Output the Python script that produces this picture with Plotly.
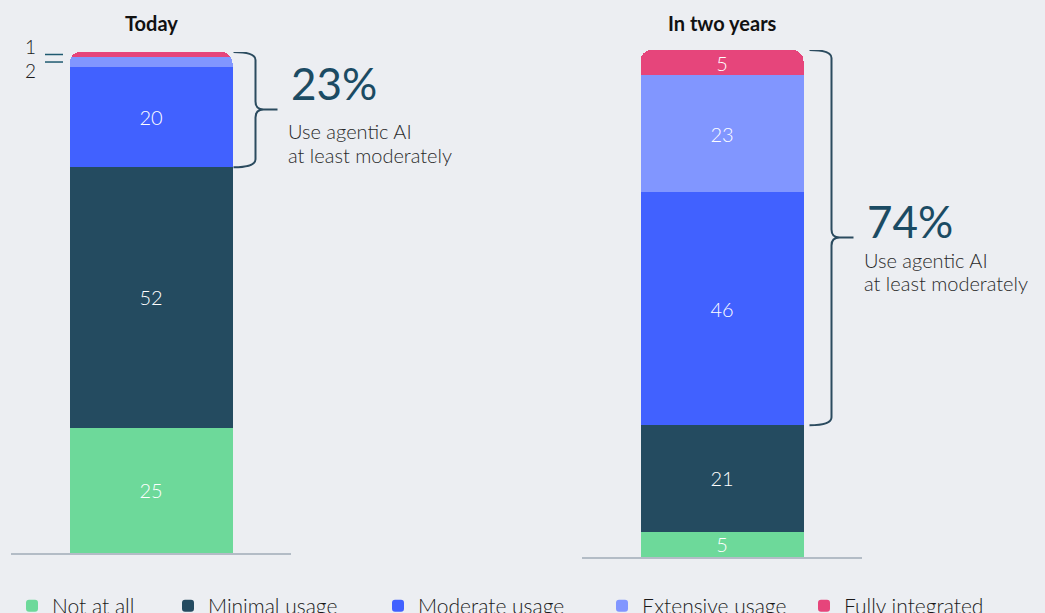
import plotly.graph_objects as go

# ---------------- data ----------------
categories = ["Not at all", "Minimal usage", "Moderate usage", "Extensive usage", "Fully integrated"]
periods = ["Today", "In two years"]
today_values = [25, 52, 20, 2, 1]
two_years_values = [5, 21, 46, 23, 5]
highlight_from = 2          # "Moderate usage" and above
highlight_label = "Use agentic AI"
highlight_label2 = "at least moderately"

# ---------------- style ----------------
colors = ["#6dd99a", "#244b60", "#4161ff", "#8196ff", "#e6457b"]
BG = "#eceef2"
FONT = "Lato"
TEAL = "#1b4b63"
BRACE = "#2b4b5f"
W, H = 1045, 613

panels = [
    dict(x0=11, x1=291, top=52, bottom=553, brace_gap=1, txt=(-27, 21, 45)),
    dict(x0=582, x1=862, top=50, bottom=557, brace_gap=6, txt=(-17, 22, 45)),
]
BAR_PX = 163


def fx(px):
    return px / W


def fy(py):
    return 1 - py / H


def xd(p, pan):
    return (p - pan["x0"]) / (pan["x1"] - pan["x0"]) - 0.5


def yd(p, pan):
    return (pan["bottom"] - p) / (pan["bottom"] - pan["top"]) * 100


def ypx(v, pan):
    return pan["bottom"] - v / 100 * (pan["bottom"] - pan["top"])


fig = go.Figure()
series = [today_values, two_years_values]

for j, vals in enumerate(series):
    pan = panels[j]
    xa = "x" if j == 0 else "x2"
    ya = "y" if j == 0 else "y2"
    width = BAR_PX / (pan["x1"] - pan["x0"])
    for i, cat in enumerate(categories):
        v = vals[i]
        fig.add_trace(go.Bar(
            x=[0], y=[v], name=cat, width=[width],
            marker=dict(color=colors[i], line=dict(width=0)),
            text=[str(v) if v >= 5 else ""],
            textposition="inside", insidetextanchor="middle", textangle=0,
            textfont=dict(color="white", size=20, family=FONT, weight=300),
            xaxis=xa, yaxis=ya,
            legend="legend" if i == 0 else f"legend{i + 1}",
            legendgroup=cat, showlegend=(j == 0),
            hovertemplate=f"{periods[j]}<br>{cat}: %{{y}}%<extra></extra>",
        ))

shapes = []
annotations = []

for j, vals in enumerate(series):
    pan = panels[j]
    xr = "x" if j == 0 else "x2"
    yr = "y" if j == 0 else "y2"
    cx = (pan["x0"] + pan["x1"]) / 2
    # title
    annotations.append(dict(text=f"<b>{periods[j]}</b>", x=0, xref=xr, y=fy(23), yref="paper",
                            xanchor="center", yanchor="middle", showarrow=False,
                            font=dict(size=20, family=FONT, color="#111111")))
    # brace over highlighted share
    total = sum(vals)
    start = sum(vals[:highlight_from])
    share = sum(vals[highlight_from:])
    top = ypx(total, pan)
    bot = ypx(start, pan)
    mid = (top + bot) / 2
    x0s = cx + BAR_PX / 2 + pan["brace_gap"]
    xv = x0s + 22
    tip = xv + 22
    r = 8
    pts = [
        ("M", [(x0s, top)]),
        ("Q", [(xv, top), (xv, top + r)]),
        ("L", [(xv, mid - r)]),
        ("Q", [(xv, mid), (xv + r, mid)]),
        ("L", [(tip, mid)]),
        ("M", [(xv + r, mid)]),
        ("Q", [(xv, mid), (xv, mid + r)]),
        ("L", [(xv, bot - r)]),
        ("Q", [(xv, bot), (x0s, bot)]),
    ]
    path = " ".join(
        cmd + " ".join(f"{xd(px, pan):.5f},{yd(py, pan):.4f}" for px, py in p) for cmd, p in pts
    )
    shapes.append(dict(type="path", path=path, xref=xr, yref=yr,
                       line=dict(color=BRACE, width=2), fillcolor="rgba(0,0,0,0)"))
    o1, o2, o3 = pan["txt"]
    tx = tip + 11
    annotations.append(dict(text=f"{share}%", x=fx(tx), xref="paper", y=yd(mid + o1, pan), yref=yr,
                            xanchor="left", yanchor="middle", showarrow=False,
                            font=dict(size=44, family=FONT, color=TEAL)))
    annotations.append(dict(text=highlight_label, x=fx(tx - 3), xref="paper", y=yd(mid + o2, pan), yref=yr,
                            xanchor="left", yanchor="middle", showarrow=False,
                            font=dict(size=20, family=FONT, color="#2a2a2a", weight=300)))
    annotations.append(dict(text=highlight_label2, x=fx(tx - 3), xref="paper", y=yd(mid + o3, pan), yref=yr,
                            xanchor="left", yanchor="middle", showarrow=False,
                            font=dict(size=20, family=FONT, color="#2a2a2a", weight=300)))

    # outside labels for small segments
    small = [i for i, v in enumerate(vals) if v < 5]
    cum = 0
    mids = {}
    for i, v in enumerate(vals):
        mids[i] = cum + v / 2
        cum += v
    for k, i in enumerate(sorted(small, key=lambda t: -mids[t])):
        ym = mids[i]
        shapes.append(dict(type="line", xref=xr, yref=yr,
                           x0=xd(45, pan), x1=xd(63, pan), y0=ym, y1=ym,
                           line=dict(color="#1f5a70", width=1.5)))
        annotations.append(dict(text=str(vals[i]), x=fx(38), xref="paper", y=ym, yref=yr,
                                xanchor="right", yanchor="middle", showarrow=False,
                                yshift=8 if k == 0 else -8,
                                font=dict(size=19, family=FONT, color="#1a1a1a", weight=300)))

layout = dict(
    width=W, height=H,
    margin=dict(l=0, r=0, t=0, b=0, autoexpand=False),
    paper_bgcolor=BG, plot_bgcolor=BG,
    barmode="stack", barcornerradius=11,
    uniformtext=dict(minsize=20, mode="show"),
    shapes=shapes, annotations=annotations,
    hovermode="closest",
)
for j, pan in enumerate(panels):
    sx = "" if j == 0 else "2"
    layout[f"xaxis{sx}"] = dict(domain=[fx(pan["x0"]), fx(pan["x1"])], range=[-0.5, 0.5],
                                showticklabels=False, showgrid=False, zeroline=False,
                                showline=True, linecolor="#b3bcc6", linewidth=2,
                                ticks="", anchor=f"y{sx}", fixedrange=True)
    layout[f"yaxis{sx}"] = dict(domain=[fy(pan["bottom"]), fy(pan["top"])], range=[0, 100],
                                visible=False, anchor=f"x{sx}", fixedrange=True)

legend_text_x = [52, 208, 418, 642, 844]
for i, tx in enumerate(legend_text_x):
    key = "legend" if i == 0 else f"legend{i + 1}"
    layout[key] = dict(x=fx(tx - 40), xanchor="left", y=fy(606), yanchor="middle",
                       orientation="h", bgcolor="rgba(0,0,0,0)",
                       font=dict(size=21, family=FONT, color="#1a1a1a", weight=300))

fig.update_layout(**layout)
fig.write_html("out.html")
